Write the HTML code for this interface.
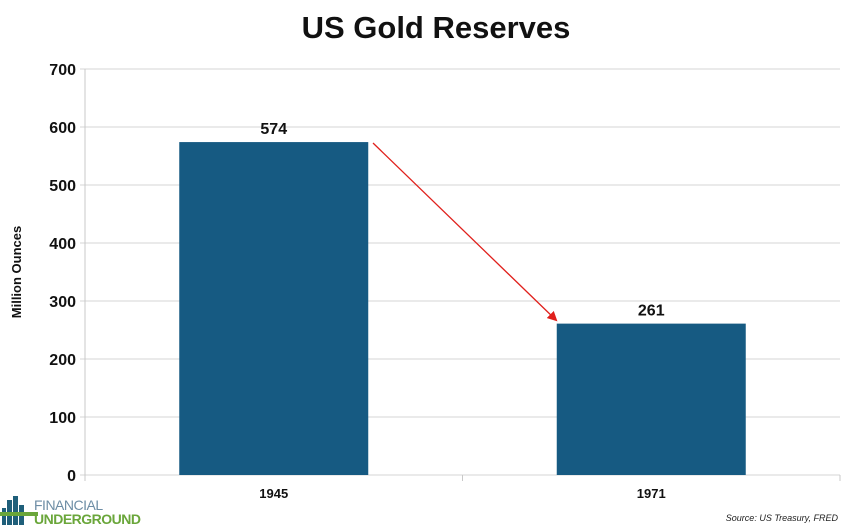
<!DOCTYPE html>
<html><head><meta charset="utf-8"><style>
body{margin:0;background:#fff;}
svg{display:block;font-family:"Liberation Sans",sans-serif;}
</style></head><body>
<svg id="chart" width="848" height="527">
<text x="436" y="38" text-anchor="middle" font-size="31" font-weight="bold" fill="#111">US Gold Reserves</text>
<g id="grid"></g>
<g id="bars"></g>
<text transform="translate(21,272) rotate(-90)" text-anchor="middle" font-size="13" font-weight="bold" fill="#111">Million Ounces</text>
<defs><marker id="ah" markerWidth="10" markerHeight="10" refX="8" refY="5" orient="auto" markerUnits="userSpaceOnUse"><path d="M0,0 L10,5 L0,10 z" fill="#e0201c"/></marker></defs>
<line x1="373" y1="143" x2="556" y2="320" stroke="#e0201c" stroke-width="1.3" marker-end="url(#ah)"/>
<g>
<rect x="2" y="508" width="4" height="17" fill="#1f5f7a"/><rect x="7" y="500" width="5" height="25" fill="#1f5f7a"/><rect x="13" y="496" width="5" height="29" fill="#1f5f7a"/><rect x="19" y="505" width="5" height="20" fill="#1f5f7a"/>
<rect x="0" y="512" width="38" height="4" fill="#6aa63a"/>
<text x="34" y="510" font-size="14" fill="#6d8da5" letter-spacing="-0.5">FINANCIAL</text>
<text x="34" y="524" font-size="14" font-weight="bold" fill="#6aa63a" letter-spacing="-0.5">UNDERGROUND</text>
</g>
<text x="838" y="521" text-anchor="end" font-size="9" font-style="italic" fill="#222">Source: US Treasury, FRED</text>
</svg>
<script>
const categories=["1945","1971"];
const values=[574,261];
const ticks=[0,100,200,300,400,500,600,700];
const NS="http://www.w3.org/2000/svg";
const x0=85,x1=840,yb=475,yt=69,max=700;
const y=v=>yb-(v/max)*(yb-yt);
const band=(x1-x0)/categories.length;
const cx=i=>x0+band*(i+0.5);
function mk(t,a,p){const e=document.createElementNS(NS,t);for(const k in a)e.setAttribute(k,a[k]);p.appendChild(e);return e;}
const g=document.getElementById('grid'),b=document.getElementById('bars');
ticks.forEach(t=>{
 const l=mk('line',{x1:x0-5,x2:x1,y1:y(t),y2:y(t),stroke:'#d4d4d4','stroke-width':1},g);
 
 
 const tx=mk('text',{x:x0-9,y:y(t)+6,'text-anchor':'end','font-size':16,'font-weight':'bold',fill:'#111'},g);
 tx.textContent=t;
 
 
});
const ax=mk('line',{x1:x0,x2:x0,y1:yt,y2:yb,stroke:'#c8c8c8'},g);


for(let i=0;i<=categories.length;i++){const tk=mk('line',{x1:x0+band*i,x2:x0+band*i,y1:yb,y2:yb+6,stroke:'#c8c8c8'},g);
 
 }
categories.forEach((c,i)=>{
 const w=189;
 const r=mk('rect',{x:cx(i)-w/2,y:y(values[i]),width:w,height:yb-y(values[i]),fill:'#165a82'},b);
 
 
 const v=mk('text',{x:cx(i),y:y(values[i])-8,'text-anchor':'middle','font-size':16,'font-weight':'bold',fill:'#111'},b);
 v.textContent=values[i];
 
 
 const xl=mk('text',{x:cx(i),y:yb+23,'text-anchor':'middle','font-size':13,'font-weight':'bold',fill:'#111'},b);
 xl.textContent=c;
 
 
});
</script>
</body></html>
